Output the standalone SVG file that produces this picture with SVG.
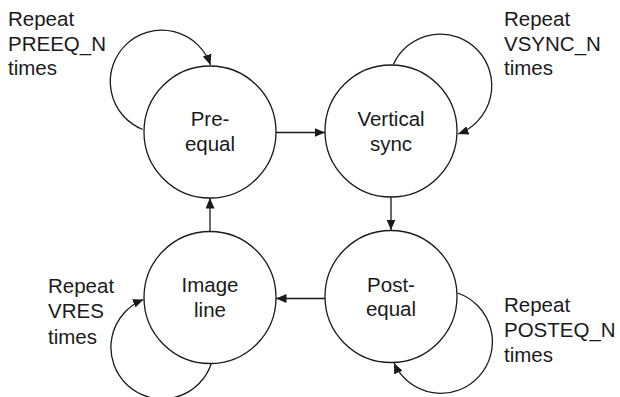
<svg xmlns="http://www.w3.org/2000/svg" width="620" height="397" viewBox="0 0 620 397">
<style>
.node{fill:#fff;stroke:#1a1a1a;stroke-width:1.3}
.edge{fill:none;stroke:#1a1a1a;stroke-width:1.3}
text{font-family:"Liberation Sans",Arial,Helvetica,sans-serif;font-size:20.5px;fill:#1a1a1a}
.c{text-anchor:middle}
</style>
<defs>
<marker id="arr" markerUnits="userSpaceOnUse" markerWidth="11" markerHeight="9" refX="10.5" refY="4.5" orient="auto">
<path d="M0,0 L10.5,4.5 L0,9 z" fill="#1a1a1a"/>
</marker>
</defs>
<g id="connectors">
<path class="edge" d="M276,132.5 L325,132.5" marker-end="url(#arr)"/>
<path class="edge" d="M391,197 L391,230" marker-end="url(#arr)"/>
<path class="edge" d="M325,298.5 L276,298.5" marker-end="url(#arr)"/>
<path class="edge" d="M210,231.5 L210,198" marker-end="url(#arr)"/>
<path class="edge" d="M142.7,129.5 A51.5,51.5 0 1,1 210.5,65" marker-end="url(#arr)"/>
<path class="edge" d="M393.3,64.5 A51.5,51.5 0 1,1 458,134" marker-end="url(#arr)"/>
<path class="edge" d="M457.5,293 A51.5,51.5 0 1,1 394,363" marker-end="url(#arr)"/>
<path class="edge" d="M211.5,363 A51.5,51.5 0 1,1 143.5,299.5" marker-end="url(#arr)"/>
</g>
<g id="pre-equal">
<circle class="node" cx="210" cy="132" r="66"/>
<text class="c" x="210" y="126">Pre-</text>
<text class="c" x="210" y="150.5">equal</text>
</g>
<g id="vertical-sync">
<circle class="node" cx="391" cy="131" r="66"/>
<text class="c" x="391" y="126">Vertical</text>
<text class="c" x="391" y="150.5">sync</text>
</g>
<g id="post-equal">
<circle class="node" cx="391" cy="296.5" r="66"/>
<text class="c" x="391" y="291.5">Post-</text>
<text class="c" x="391" y="316">equal</text>
</g>
<g id="image-line">
<circle class="node" cx="210" cy="297.5" r="66"/>
<text class="c" x="210" y="292">Image</text>
<text class="c" x="210" y="317">line</text>
</g>
<g id="label-preeq">
<text x="8" y="26">Repeat</text>
<text x="8" y="50.5">PREEQ_N</text>
<text x="8" y="75">times</text>
</g>
<g id="label-vsync">
<text x="504" y="26">Repeat</text>
<text x="504" y="50.5">VSYNC_N</text>
<text x="504" y="75">times</text>
</g>
<g id="label-vres">
<text x="48" y="293">Repeat</text>
<text x="48" y="318">VRES</text>
<text x="48" y="343.5">times</text>
</g>
<g id="label-posteq">
<text x="504" y="312">Repeat</text>
<text x="504" y="337">POSTEQ_N</text>
<text x="504" y="362">times</text>
</g>
</svg>
